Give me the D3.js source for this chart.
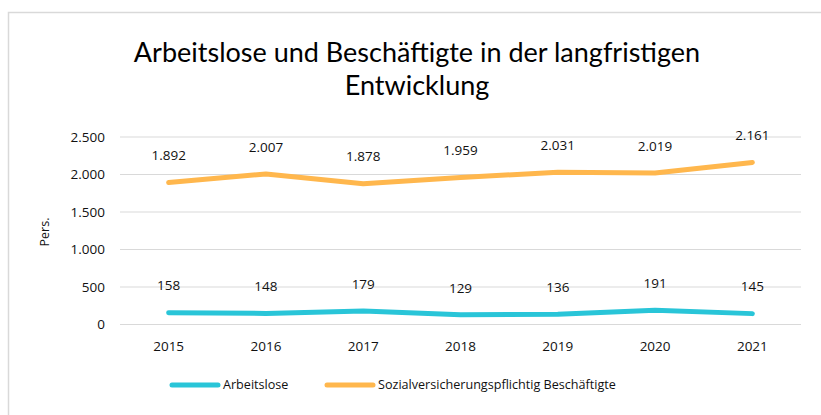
<!DOCTYPE html>
<html>
<head>
<meta charset="utf-8">
<script src="https://cdn.jsdelivr.net/npm/d3@7"></script>
<style>
  body { margin: 0; background: #fff; }
  svg { display: block; font-family: "Open Sans", "Noto Sans", sans-serif; }
</style>
</head>
<body>
<svg></svg>
<script>
// Daten
const years = ["2015", "2016", "2017", "2018", "2019", "2020", "2021"];
const arbeitslose = [158, 148, 179, 129, 136, 191, 145];
const beschaeftigte = [1892, 2007, 1878, 1959, 2031, 2019, 2161];
const yTicks = [0, 500, 1000, 1500, 2000, 2500];
const seriesNames = ["Arbeitslose", "Sozialversicherungspflichtig Beschäftigte"];
const titleLines = ["Arbeitslose und Beschäftigte in der langfristigen", "Entwicklung"];
const colors = ["#29c5d8", "#ffb74d"];

const width = 821;
const height = 415;

const svg = d3.select("svg")
    .attr("width", width)
    .attr("height", height);

// Rahmen
svg.append("rect")
    .attr("x", 8.5)
    .attr("y", 12.5)
    .attr("width", 830)
    .attr("height", 430)
    .attr("fill", "none")
    .attr("stroke", "#d9d9d9")
    .attr("stroke-width", 1.5);

// Titel (Lato: kompaktere Zeilenhöhe)
svg.append("g")
    .selectAll("text")
    .data(titleLines)
    .enter()
    .append("text")
    .attr("x", 417)
    .attr("y", (d, i) => 62 + i * 33)
    .attr("text-anchor", "middle")
    .attr("font-family", "Lato, 'Open Sans', sans-serif")
    .attr("font-size", "27px")
    .attr("fill", "#000")
    .text(d => d);

const xScale = d3.scaleBand()
    .domain(years)
    .range([120, 801]);

const yScale = d3.scaleLinear()
    .domain([0, 2500])
    .range([324.5, 137]);

// Gitternetz
svg.append("g")
    .selectAll("line")
    .data(yTicks)
    .enter()
    .append("line")
    .attr("x1", 120)
    .attr("x2", 801)
    .attr("y1", d => yScale(d))
    .attr("y2", d => yScale(d))
    .attr("stroke", "#d9d9d9")
    .attr("stroke-width", 1);

// Y-Achse
const fmt = d3.formatLocale({ decimal: ",", thousands: ".", grouping: [3], currency: ["", "€"] }).format(",");
svg.append("g")
    .selectAll("text")
    .data(yTicks)
    .enter()
    .append("text")
    .attr("x", 105)
    .attr("y", d => yScale(d))
    .attr("dy", "0.35em")
    .attr("text-anchor", "end")
    .attr("font-size", "13.5px")
    .attr("fill", "#111")
    .text(d => fmt(d));

svg.append("text")
    .attr("transform", "translate(45,232) rotate(-90)")
    .attr("text-anchor", "middle")
    .attr("dy", "0.35em")
    .attr("font-size", "12.5px")
    .attr("fill", "#111")
    .text("Pers.");

// X-Achse
svg.append("g")
    .selectAll("text")
    .data(years)
    .enter()
    .append("text")
    .attr("x", d => xScale(d) + xScale.bandwidth() / 2)
    .attr("y", 346)
    .attr("dy", "0.35em")
    .attr("text-anchor", "middle")
    .attr("font-size", "13.5px")
    .attr("fill", "#111")
    .text(d => d);

// Linien
const allSeries = [arbeitslose, beschaeftigte];
const line = d3.line()
    .x((d, i) => xScale(years[i]) + xScale.bandwidth() / 2)
    .y(d => yScale(d));

allSeries.forEach((values, s) => {
    svg.append("path")
        .datum(values)
        .attr("fill", "none")
        .attr("stroke", colors[s])
        .attr("stroke-width", 5)
        .attr("stroke-linecap", "round")
        .attr("stroke-linejoin", "round")
        .attr("d", line);

    // Datenbeschriftung
    svg.append("g")
        .selectAll("text")
        .data(values)
        .enter()
        .append("text")
        .attr("x", (d, i) => xScale(years[i]) + xScale.bandwidth() / 2)
        .attr("y", d => yScale(d) - 27)
        .attr("dy", "0.35em")
        .attr("text-anchor", "middle")
        .attr("font-size", "13.5px")
        .attr("fill", "#111")
        .text(d => fmt(d));
});

// Legende
const legendX = [170, 325];
seriesNames.forEach((name, s) => {
    svg.append("line")
        .attr("x1", legendX[s] + 2)
        .attr("x2", legendX[s] + 48)
        .attr("y1", 385)
        .attr("y2", 385)
        .attr("stroke", colors[s])
        .attr("stroke-width", 5)
        .attr("stroke-linecap", "round");
    svg.append("text")
        .attr("x", legendX[s] + 53)
        .attr("y", 385)
        .attr("dy", "0.35em")
        .attr("font-size", "12.6px")
        .attr("fill", "#111")
        .text(name);
});
</script>
</body>
</html>
